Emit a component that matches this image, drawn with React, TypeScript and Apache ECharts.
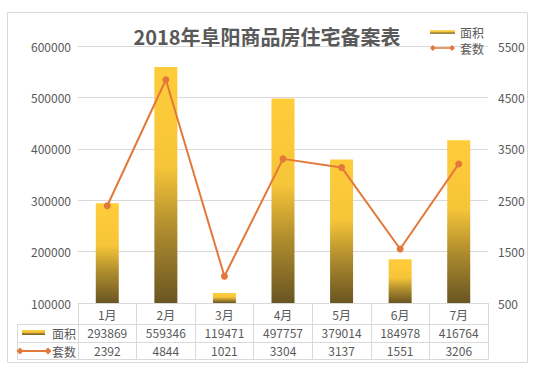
import React, { useEffect, useRef } from 'react';
import * as echarts from 'echarts';

const titleText = '2018年阜阳商品房住宅备案表';
const months = ['1月', '2月', '3月', '4月', '5月', '6月', '7月'];
const areaName = '面积';
const countName = '套数';
const areaValues = [293869, 559346, 119471, 497757, 379014, 184978, 416764];
const countValues = [2392, 4844, 1021, 3304, 3137, 1551, 3206];
const leftAxis = { min: 100000, max: 600000, interval: 100000 };
const rightAxis = { min: 500, max: 5500, interval: 1000 };

const TEXT = '#595959';
const GRID = '#d9d9d9';
const ORANGE = '#E2793A';
const FONT = '"Noto Sans CJK SC", "Noto Sans", sans-serif';

const barGradient = () =>
  new echarts.graphic.LinearGradient(0, 0, 0, 1, [
    { offset: 0, color: '#FFCC3A' },
    { offset: 0.42, color: '#F6C538' },
    { offset: 0.7, color: '#AC8A2D' },
    { offset: 1, color: '#6A5522' },
  ]);

const legendBarIcon = 'path://M0,1.6H34V6.4H0Z';
const legendLineIcon = 'path://M0,4L4,0L8,4L4,8Z M4,2.9H30V5.1H4Z M26,4L30,0L34,4L30,8Z';

export default function App() {
  const ref = useRef<HTMLDivElement>(null);
  useEffect(() => {
    document.body.style.margin = '0';
    if (!ref.current) return;
    const chart = echarts.init(ref.current, undefined, { renderer: 'svg' });
    const gridLeft = 78;
    const gridRight = 488;
    const gridBottomY = 303;
    const row2Y = 324.5;
    const row3Y = 342.5;
    const tableBottom = 359.5;
    const keyLeft = 17.5;
    const plain = (v: number) => String(v);
    const diamond = (cx: number, cy: number, r: number) => ({
      type: 'polygon',
      shape: { points: [[cx - r, cy], [cx, cy - r], [cx + r, cy], [cx, cy + r]] },
      style: { fill: ORANGE },
    });
    chart.setOption({
      animation: false,
      backgroundColor: '#ffffff',
      textStyle: { fontFamily: FONT },
      title: {
        text: titleText,
        left: 262,
        textAlign: 'center',
        top: 21,
        textStyle: { fontSize: 20, fontWeight: 'bold', color: TEXT, fontFamily: FONT },
      },
      legend: {
        orient: 'vertical',
        left: 430,
        top: 26,
        padding: 0,
        itemWidth: 25,
        itemHeight: 7,
        itemGap: 4,
        textStyle: { fontSize: 12, color: TEXT, fontFamily: FONT, lineHeight: 12 },
        data: [
          { name: areaName, icon: legendBarIcon },
          { name: countName, icon: legendLineIcon },
        ],
      },
      grid: { left: gridLeft, right: 533 - gridRight, top: 46, bottom: 370 - gridBottomY },
      xAxis: [
        {
          type: 'category',
          data: months,
          axisLine: { lineStyle: { color: GRID } },
          axisTick: { show: true, length: 56, lineStyle: { color: GRID } },
          axisLabel: { color: TEXT, fontSize: 12, margin: 5, fontFamily: FONT },
        },
        {
          type: 'category',
          data: areaValues.map(String),
          position: 'bottom',
          offset: 18,
          axisLine: { show: false },
          axisTick: { show: false },
          splitLine: { show: false },
          axisLabel: { color: TEXT, fontSize: 12, margin: 5, fontFamily: FONT },
        },
        {
          type: 'category',
          data: countValues.map(String),
          position: 'bottom',
          offset: 36,
          axisLine: { show: false },
          axisTick: { show: false },
          splitLine: { show: false },
          axisLabel: { color: TEXT, fontSize: 12, margin: 5, fontFamily: FONT },
        },
      ],
      yAxis: [
        {
          type: 'value',
          min: leftAxis.min,
          max: leftAxis.max,
          interval: leftAxis.interval,
          startValue: leftAxis.min,
          axisLine: { show: false },
          axisTick: { show: false },
          splitLine: { lineStyle: { color: GRID } },
          axisLabel: { color: TEXT, fontSize: 12, margin: 7, fontFamily: FONT, formatter: plain },
        },
        {
          type: 'value',
          position: 'right',
          min: rightAxis.min,
          max: rightAxis.max,
          interval: rightAxis.interval,
          axisLine: { show: false },
          axisTick: { show: false },
          splitLine: { show: false },
          axisLabel: { color: TEXT, fontSize: 12, margin: 10, fontFamily: FONT, formatter: plain },
        },
      ],
      series: [
        {
          name: areaName,
          type: 'bar',
          xAxisIndex: 0,
          yAxisIndex: 0,
          barWidth: 23,
          clip: true,
          data: areaValues,
          itemStyle: { color: barGradient() },
        },
        {
          name: countName,
          type: 'line',
          xAxisIndex: 0,
          yAxisIndex: 1,
          data: countValues,
          symbol: 'circle',
          symbolSize: 7,
          lineStyle: { color: ORANGE, width: 2 },
          itemStyle: { color: ORANGE },
        },
      ],
      graphic: [
        {
          type: 'rect',
          shape: { x: 7.5, y: 12.5, width: 520, height: 350 },
          style: { fill: 'none', stroke: GRID, lineWidth: 1 },
          z: -1,
        },
        { type: 'line', shape: { x1: keyLeft, y1: row2Y, x2: gridRight + 0.5, y2: row2Y }, style: { stroke: GRID, lineWidth: 1 } },
        { type: 'line', shape: { x1: keyLeft, y1: row3Y, x2: gridRight + 0.5, y2: row3Y }, style: { stroke: GRID, lineWidth: 1 } },
        { type: 'line', shape: { x1: keyLeft, y1: tableBottom, x2: gridRight + 0.5, y2: tableBottom }, style: { stroke: GRID, lineWidth: 1 } },
        { type: 'line', shape: { x1: keyLeft, y1: row2Y, x2: keyLeft, y2: tableBottom }, style: { stroke: GRID, lineWidth: 1 } },
        {
          type: 'rect',
          shape: { x: 22, y: 330, width: 23, height: 5 },
          style: { fill: barGradient() },
        },
        {
          type: 'text',
          x: 52,
          y: 333.5,
          style: { text: areaName, fill: TEXT, font: `12px ${FONT}`, verticalAlign: 'middle' },
        },
        {
          type: 'line',
          shape: { x1: 20, y1: 351, x2: 48, y2: 351 },
          style: { stroke: ORANGE, lineWidth: 2 },
        },
        diamond(20, 351, 3.5),
        diamond(48, 351, 3.5),
        {
          type: 'text',
          x: 52,
          y: 351.5,
          style: { text: countName, fill: TEXT, font: `12px ${FONT}`, verticalAlign: 'middle' },
        },
      ],
    });
    return () => chart.dispose();
  }, []);
  return <div ref={ref} style={{ width: 533, height: 370 }} />;
}
